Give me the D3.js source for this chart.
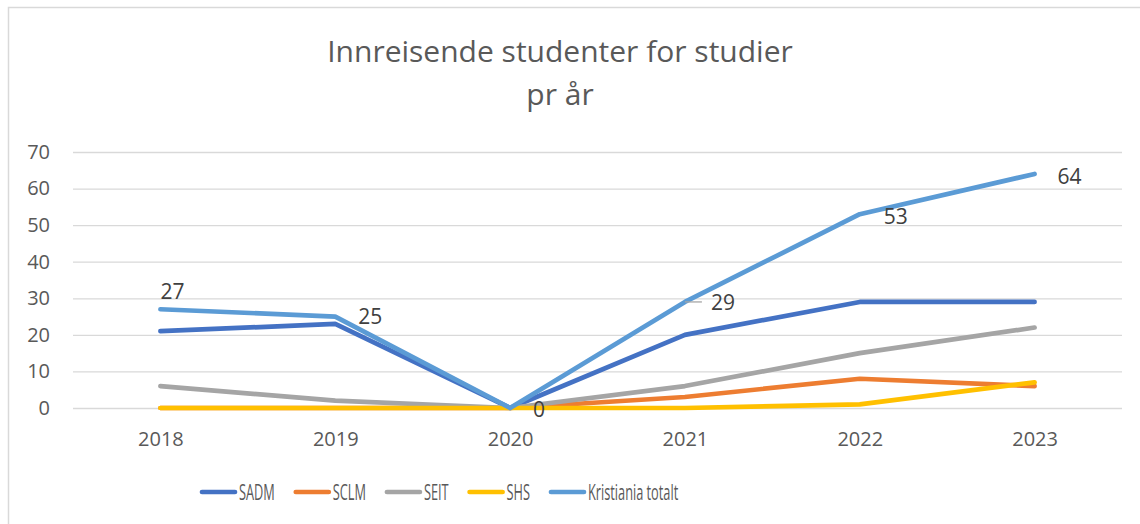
<!DOCTYPE html>
<html>
<head>
<meta charset="utf-8">
<script src="https://cdn.jsdelivr.net/npm/d3@7"></script>
<style>
  body { margin: 0; background: #fff; }
  svg { display: block; font-family: "Open Sans", sans-serif; }
</style>
</head>
<body>
<div id="container"></div>
<script>
const years = ['2018', '2019', '2020', '2021', '2022', '2023'];
const seriesNames = ['SADM', 'SCLM', 'SEIT', 'SHS', 'Kristiania totalt'];
const sadm = [21, 23, 0, 20, 29, 29];
const sclm = [0, 0, 0, 3, 8, 6];
const seit = [6, 2, 0, 6, 15, 22];
const shs = [0, 0, 0, 0, 1, 7];
const totalt = [27, 25, 0, 29, 53, 64];
const yTicks = [0, 10, 20, 30, 40, 50, 60, 70];
const titleLines = ['Innreisende studenter for studier', 'pr år'];

const colors = ['#4472C4', '#ED7D31', '#A5A5A5', '#FFC000', '#5B9BD5'];
const allSeries = [sadm, sclm, seit, shs, totalt];

const width = 1140, height = 524;
const plotLeft = 73, plotRight = 1122, plotTop = 152, plotBottom = 408;

const svg = d3.select('#container').append('svg')
  .attr('width', width).attr('height', height);

// chart border
svg.append('rect')
  .attr('x', 8.5).attr('y', 7.5)
  .attr('width', width).attr('height', height)
  .attr('fill', '#fff').attr('stroke', '#d9d9d9').attr('stroke-width', 1.5);

const xScale = d3.scalePoint().domain(years).range([plotLeft, plotRight]).padding(0.5);
const yScale = d3.scaleLinear().domain([0, 70]).range([plotBottom, plotTop]);

// title
svg.append('text')
  .attr('x', 560).attr('y', 62)
  .attr('text-anchor', 'middle')
  .attr('font-size', 30).attr('fill', '#595959')
  .selectAll('tspan').data(titleLines).enter().append('tspan')
  .attr('x', 560).attr('dy', (d, i) => i ? 43 : 0)
  .text(d => d);

// y axis + gridlines
const yAxis = svg.append('g')
  .attr('transform', `translate(${plotLeft},0)`)
  .call(d3.axisLeft(yScale).tickValues(yTicks).tickSize(-(plotRight - plotLeft)).tickPadding(23));
yAxis.select('.domain').remove();
yAxis.selectAll('line').attr('stroke', '#d9d9d9').attr('stroke-width', 1.3);
yAxis.selectAll('text').attr('font-size', 20).attr('fill', '#595959')
  .attr('font-family', '"Open Sans", sans-serif');

// x axis
const xAxis = svg.append('g')
  .attr('transform', `translate(0,${plotBottom})`)
  .call(d3.axisBottom(xScale).tickSize(0).tickPadding(24));
xAxis.select('.domain').remove();
xAxis.selectAll('text').attr('font-size', 20).attr('fill', '#595959')
  .attr('font-family', '"Open Sans", sans-serif');

// lines
const line = d3.line()
  .x((d, i) => xScale(years[i]))
  .y(d => yScale(d));

svg.selectAll('path.series')
  .data(allSeries).enter().append('path')
  .attr('class', 'series')
  .attr('d', line)
  .attr('fill', 'none')
  .attr('stroke', (d, i) => colors[i])
  .attr('stroke-width', 4.7)
  .attr('stroke-linejoin', 'round')
  .attr('stroke-linecap', 'round');

// data labels for Kristiania totalt (offsets mimic Excel placement)
const labelOffsets = [[0, -18], [23, 0], [23, 1], [26, 0], [24, 2], [23, 2]];
const labels = svg.append('g');
labels.selectAll('text')
  .data(totalt).enter().append('text')
  .attr('x', (d, i) => xScale(years[i]) + labelOffsets[i][0])
  .attr('y', (d, i) => yScale(d) + labelOffsets[i][1])
  .attr('dy', '0.36em')
  .attr('font-size', 21).attr('fill', '#404040')
  .text(d => d);
// leader line for 2021 label
labels.append('line')
  .attr('x1', xScale('2021')).attr('x2', xScale('2021') + 17)
  .attr('y1', yScale(totalt[3])).attr('y2', yScale(totalt[3]))
  .attr('stroke', '#a6a6a6').attr('stroke-width', 1.3);

// legend
const legend = svg.append('g').attr('transform', 'translate(200,492)');
const squeeze = 0.58;
let lx = 0;
seriesNames.forEach((name, i) => {
  const g = legend.append('g').attr('transform', `translate(${lx},0)`);
  g.append('line').attr('x1', 2).attr('x2', 35)
    .attr('stroke', colors[i]).attr('stroke-width', 4.7).attr('stroke-linecap', 'round');
  const t = g.append('text')
    .attr('transform', `translate(39,0) scale(${squeeze},1)`)
    .attr('dy', '0.36em')
    .attr('font-size', 22).attr('fill', '#595959')
    .text(name);
  lx += 39 + t.node().getComputedTextLength() * squeeze + 19;
});
</script>
</body>
</html>
